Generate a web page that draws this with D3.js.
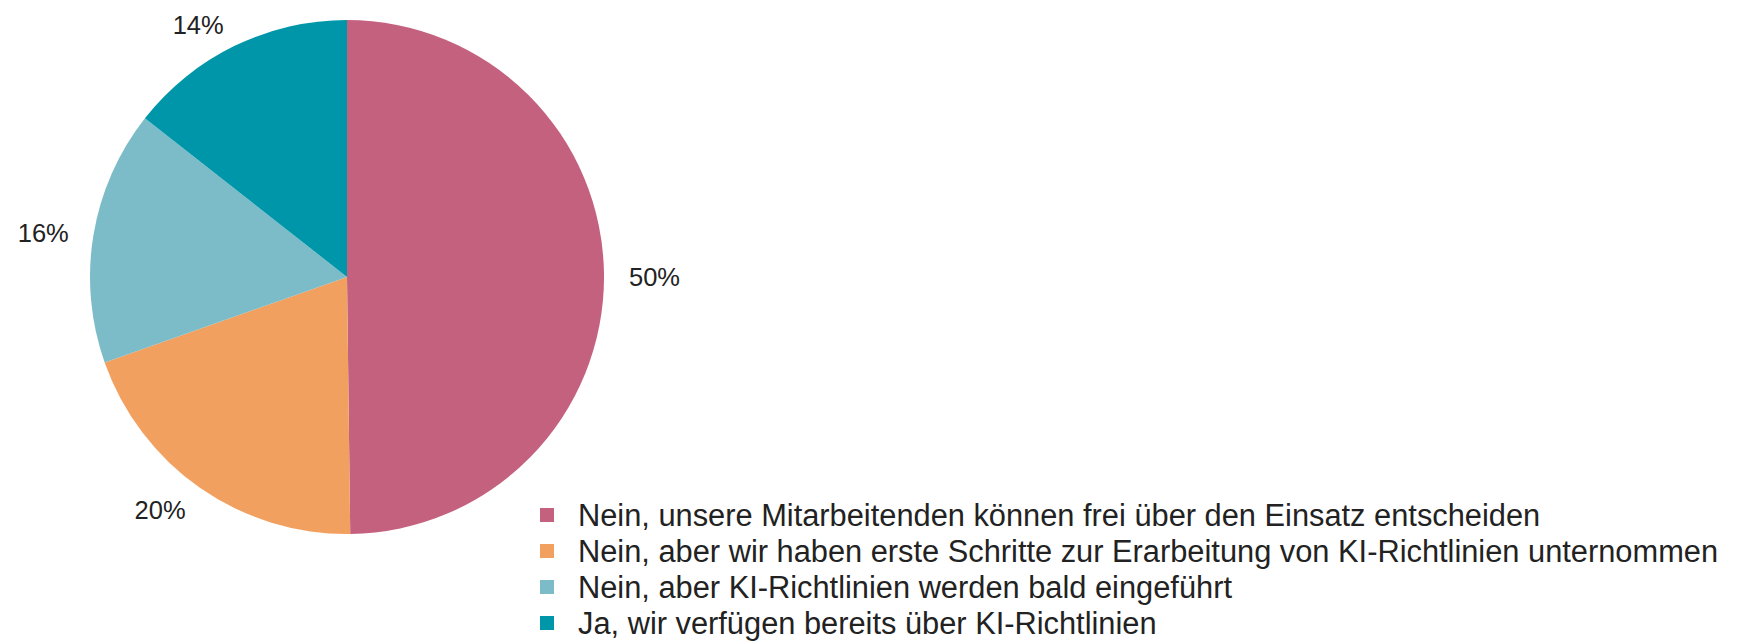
<!DOCTYPE html>
<html>
<head>
<meta charset="utf-8">
<script src="https://cdn.jsdelivr.net/npm/d3@7"></script>
<style>
  body { margin: 0; background: #fff; }
  text { font-family: "Liberation Sans", Arial, sans-serif; fill: #222; }
</style>
</head>
<body>
<script>
// answer categories, in drawing order (clockwise from 12 o'clock)
var categories = [
  "Nein, unsere Mitarbeitenden können frei über den Einsatz entscheiden",
  "Nein, aber wir haben erste Schritte zur Erarbeitung von KI-Richtlinien unternommen",
  "Nein, aber KI-Richtlinien werden bald eingeführt",
  "Ja, wir verfügen bereits über KI-Richtlinien"
];
// shares in percent
var values = [49.8, 19.8, 16.0, 14.4];
var labels = ["50%", "20%", "16%", "14%"];
var colors = ["#c4617f", "#f2a060", "#7bbcc8", "#0096a9"];

var width = 1738, height = 643;
var cx = 347, cy = 277, radius = 257;

var svg = d3.select("body").append("svg")
            .attr("width", width)
            .attr("height", height);

var pie = d3.pie().sort(null).value(function(d) { return d; });
var arcs = pie(values);

var arc = d3.arc().innerRadius(0).outerRadius(radius);
var labelR = radius + 25;

var g = svg.append("g").attr("transform", "translate(" + cx + "," + cy + ")");

g.selectAll("path")
 .data(arcs)
 .enter().append("path")
 .attr("d", arc)
 .attr("fill", function(d, i) { return colors[i]; });

//percentage labels outside, text starts/ends at the label point
function mid(d) { return (d.startAngle + d.endAngle) / 2; }

g.selectAll("text.pct")
 .data(arcs)
 .enter().append("text")
 .attr("class", "pct")
 .attr("x", function(d) { return Math.sin(mid(d)) * labelR; })
 .attr("y", function(d) { return -Math.cos(mid(d)) * labelR; })
 .attr("text-anchor", function(d) { return Math.sin(mid(d)) < 0 ? "end" : "start"; })
 .attr("dy", "0.42em")
 .attr("font-size", "25.5px")
 .text(function(d, i) { return labels[i]; });

//legend bottom right
var legend = svg.append("g").attr("transform", "translate(540,515)");
var rowH = 36;

var rows = legend.selectAll("g")
                 .data(categories)
                 .enter().append("g")
                 .attr("transform", function(d, i) { return "translate(0," + (i * rowH) + ")"; });

rows.append("rect")
    .attr("x", 0)
    .attr("y", -7)
    .attr("width", 14)
    .attr("height", 14)
    .attr("fill", function(d, i) { return colors[i]; });

rows.append("text")
    .attr("x", 38)
    .attr("dy", "0.35em")
    .attr("font-size", "30.8px")
    .text(function(d) { return d; });
</script>
</body>
</html>
